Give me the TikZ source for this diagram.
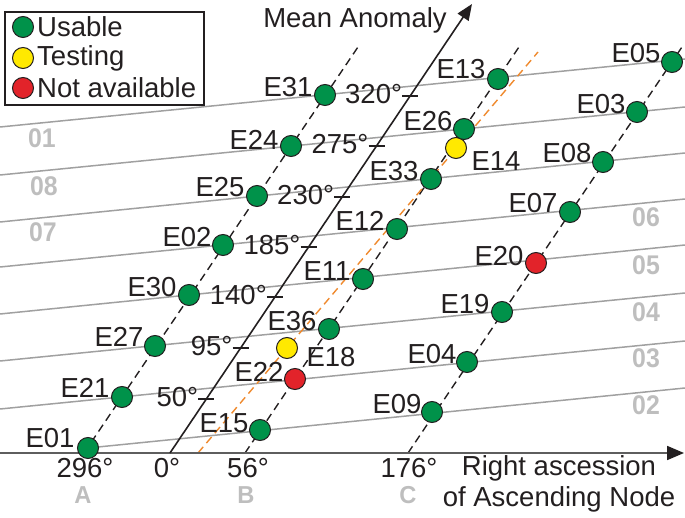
\documentclass[tikz,border=0pt]{standalone}
\usepackage{fontspec}
\setmainfont{Liberation Sans}
\usetikzlibrary{arrows.meta}
\definecolor{galGreen}{HTML}{00924A}
\definecolor{galYellow}{HTML}{FFE900}
\definecolor{galRed}{HTML}{E2232A}
\definecolor{galOrbit}{HTML}{A0A0A0}
\definecolor{galPlane}{HTML}{BEBEBE}
\definecolor{galOrange}{HTML}{EF8A2E}
\definecolor{galInk}{HTML}{231F20}
\definecolor{galAxis}{HTML}{5E5E5E}
\tikzset{
  gal sat/.style={circle, draw=galInk, line width=1pt, minimum size=21pt, inner sep=0pt},
  gal usable/.style={gal sat, fill=galGreen},
  gal testing/.style={gal sat, fill=galYellow},
  gal down/.style={gal sat, fill=galRed},
  gal label/.style={font=\fontsize{27.5}{29}\selectfont, text=galInk, inner sep=0pt},
  gal plane/.style={font=\bfseries\fontsize{27}{28}\selectfont, text=galPlane, inner sep=0pt, xscale=0.92},
  gal orbit/.style={draw=galOrbit, line width=1.5pt},
  gal column/.style={draw=galInk, dash pattern=on 8pt off 5pt, line width=1.4pt},
  gal axis/.style={draw=galInk, line width=1.6pt},
}

\begin{document}
\begin{tikzpicture}[x=1pt, y=-1pt]
  \useasboundingbox (0,0) rectangle (685,518);

  % Orbit rows, rising to the right
  \coordinate (o1-w) at (88,448);
  \coordinate (o1-e) at (685,388);
  \draw[gal orbit] (o1-w) -- (o1-e);
  \foreach \k/\ya/\yb in {2/409/341, 3/361/293, 4/314/245, 5/267/199,
                          6/222/153, 7/175/107, 8/127/59} {
    \coordinate (o\k-w) at (0,\ya);
    \coordinate (o\k-e) at (685,\yb);
    \draw[gal orbit] (o\k-w) -- (o\k-e);
  }

  % Planes A, B, C
  \foreach \p/\xa/\xb in {A/84/360, B/245/521, C/408/684} {
    \coordinate (\p-s) at (\xa,453);
    \coordinate (\p-n) at (\xb,44);
    \draw[gal column] (\p-s) -- (\p-n);
  }
  \coordinate (or-s) at (198,453);
  \coordinate (or-n) at (538,52);
  \draw[gal column, draw=galOrange] (or-s) -- (or-n);

  % Axes
  \coordinate (ra0) at (0,453);
  \coordinate (ra1) at (684,453);
  \draw[draw=galAxis, line width=1.8pt, -{Triangle[length=17pt, width=14pt, color=galInk]}]
    (ra0) -- (ra1);
  \coordinate (ma0) at (170,453);
  \coordinate (ma1) at (472,4);
  \draw[gal axis, -{Triangle[length=16pt, width=13pt]}] (ma0) -- (ma1);

  % Mean anomaly ticks
  \foreach \deg/\ty in {50/399, 95/348, 140/297, 185/247, 230/197, 275/146, 320/96} {
    \pgfmathsetmacro{\tx}{170+0.673*(453-\ty)}
    \coordinate (t\deg) at (\tx,\ty);
    \draw[gal axis] ([xshift=-8pt]t\deg) -- ([xshift=8pt]t\deg);
    \node[gal label, anchor=east] (t\deg-l) at ([xshift=-8pt, yshift=2pt]t\deg) {\deg°};
  }

  % Satellites
  \foreach \name/\x/\y/\kind/\lx/\ly in {
      E01/88/448/usable/50/438,   E21/122/397/usable/85/388,
      E27/155/346/usable/119/337, E30/189/295/usable/152/287,
      E02/223/245/usable/187/237, E25/257/196/usable/220/187,
      E24/291/146/usable/254/140, E31/325/95/usable/288/87,
      E15/260/430/usable/224/423, E22/295/379/down/259/372,
      E18/287/348/testing/331/357, E36/329/329/usable/292/321,
      E11/363/279/usable/327/271, E12/397/229/usable/360/221,
      E33/431/179/usable/394/171, E14/456/148/testing/496/161,
      E26/464/129/usable/428/121, E13/498/79/usable/461/69,
      E09/432/412/usable/397/404, E04/467/362/usable/432/354,
      E19/502/312/usable/465/304, E20/536/263/down/499/256,
      E07/570/212/usable/533/203, E08/603/162/usable/567/153,
      E03/637/112/usable/601/104, E05/672/62/usable/636/53} {
    \node[gal \kind] (\name) at (\x,\y) {};
    \node[gal label] (\name-l) at (\lx,\ly) {\name};
  }

  % Plane numbers
  \foreach \n/\x/\y in {01/42/138, 08/44/186, 07/43/232, 06/646/217,
                        05/646/265, 04/646/312, 03/646/358, 02/646/405} {
    \node[gal plane] (pl\n) at (\x,\y) {\n};
  }
  \foreach \p/\x in {A/83, B/246, C/408} {
    \node[gal plane, font=\bfseries\fontsize{24.5}{26}\selectfont, xscale=1.05] (pl\p) at (\x,495) {\p};
  }

  % Axis values and titles
  \foreach \v/\x in {296/85, 0/167, 56/248, 176/409} {
    \node[gal label] (ra\v) at (\x,468) {\v°};
  }
  \node[gal label] (ma-l) at (355,20) {Mean Anomaly};
  \node[gal label, align=center, font=\fontsize{27.5}{31}\selectfont] (ra-l) at (559,484)
    {Right ascession\\of Ascending Node};

  % Legend
  \draw[draw=galInk, fill=white, line width=1.4pt] (5,12) rectangle (204,105);
  \foreach \kind/\txt/\y in {usable/Usable/27, testing/Testing/58, down/Not available/88} {
    \node[gal \kind] (lg-\kind) at (23,\y) {};
    \node[gal label, anchor=west] (lg-\kind-l) at (37,\y) {\txt};
  }
\end{tikzpicture}
\end{document}
